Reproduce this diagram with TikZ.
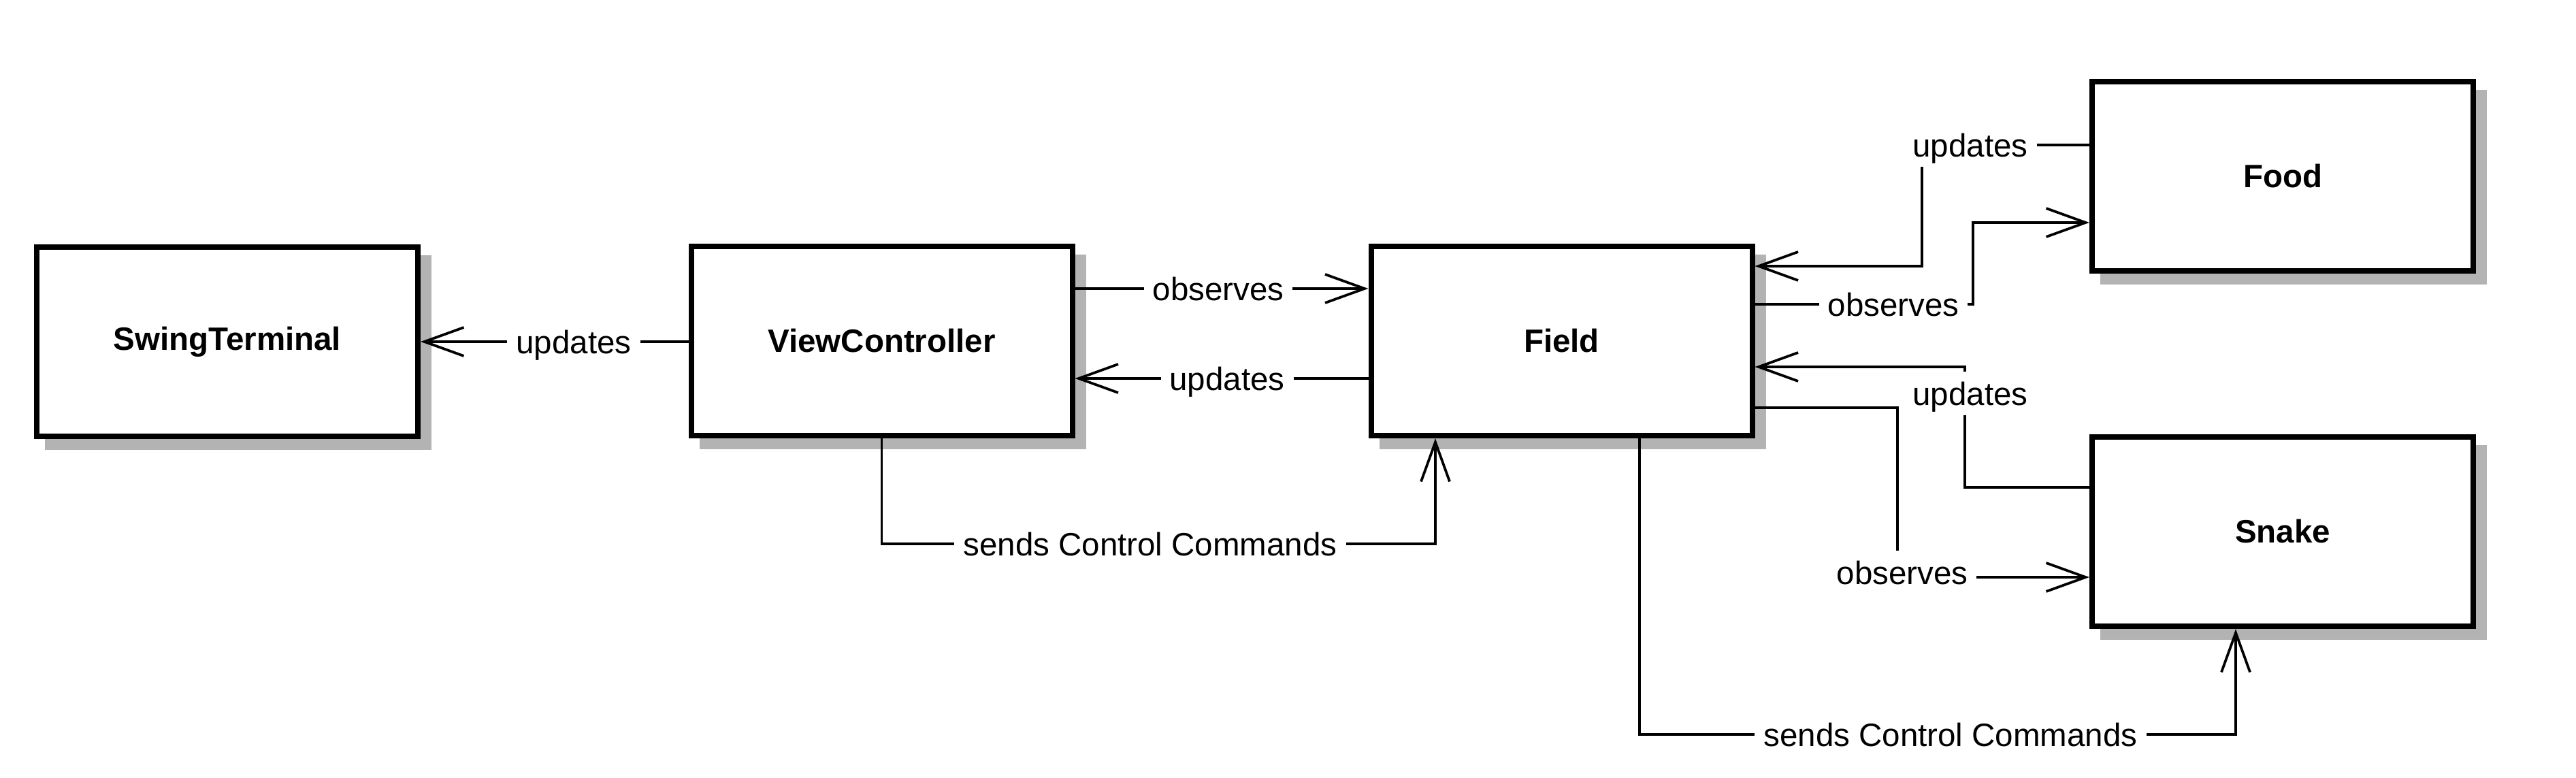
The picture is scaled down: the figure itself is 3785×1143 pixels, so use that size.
\documentclass[tikz,border=0pt]{standalone}
\usepackage{fontspec}
\setmainfont{Liberation Sans}
\usetikzlibrary{arrows.meta,backgrounds}
\definecolor{shadowgray}{RGB}{179,179,179}
\begin{document}
\begin{tikzpicture}[x=0.2pt,y=-0.2pt,
  box/.style={draw, line width=1.6pt, fill=white, minimum width=112pt, minimum height=55.6pt, inner sep=0pt, font=\fontsize{9.5}{11}\selectfont\bfseries},
  arr/.style={line width=0.75pt, -{Straight Barb[length=11.6pt,width=8.4pt,line width=0.75pt]}},
  lbl/.style={fill=white, inner xsep=2.6pt, inner ysep=3pt, text depth=0pt, font=\fontsize{9.5}{11}\selectfont}
]
\useasboundingbox (0,0) rectangle (3785,1143);

\node[box] (st) at (334,502) {SwingTerminal};
\node[box] (vc) at (1295.5,501) {ViewController};
\node[box] (field) at (2294.5,501) {Field};
\node[box] (food) at (3354,259) {Food};
\node[box] (snake) at (3354,781) {Snake};

\begin{scope}[on background layer]
\foreach \n in {st,vc,field,food,snake}
  \fill[shadowgray] ([shift={(16,16)}]\n.north west) rectangle ([shift={(16,16)}]\n.south east);
\end{scope}

\draw[arr] (vc.west |- 0,502) -- (st.east |- 0,502);
\draw[arr] (vc.east |- 0,424) -- (field.west |- 0,424);
\draw[arr] (field.west |- 0,556) -- (vc.east |- 0,556);
\draw[arr] (vc.south) |- (2109,799) -- (field.south -| 2109,0);
\draw[arr] (food.west |- 0,213) -| (2824,391) -- (field.east |- 0,391);
\draw[arr] (field.east |- 0,447) -| (2899,327) -- (food.west |- 0,327);
\draw[arr] (snake.west |- 0,716) -| (2887,539) -- (field.east |- 0,539);
\draw[arr] (field.east |- 0,599) -| (2788,848) -- (snake.west |- 0,848);
\draw[arr] (field.south -| 2409,0) |- (3285,1079) -- (snake.south -| 3285,0);

\node[lbl] (l1) at (843,502) {updates};
\node[lbl] (l2) at (1790,424) {observes};
\node[lbl] (l3) at (1803,556) {updates};
\node[lbl] (l4) at (1690,799) {sends Control Commands};
\node[lbl] (l5) at (2895,213) {updates};
\node[lbl] (l6) at (2782,447) {observes};
\node[lbl] (l7) at (2895,578) {updates};
\node[lbl] (l8) at (2795,841) {observes};
\node[lbl] (l9) at (2866,1079) {sends Control Commands};
\end{tikzpicture}
\end{document}
